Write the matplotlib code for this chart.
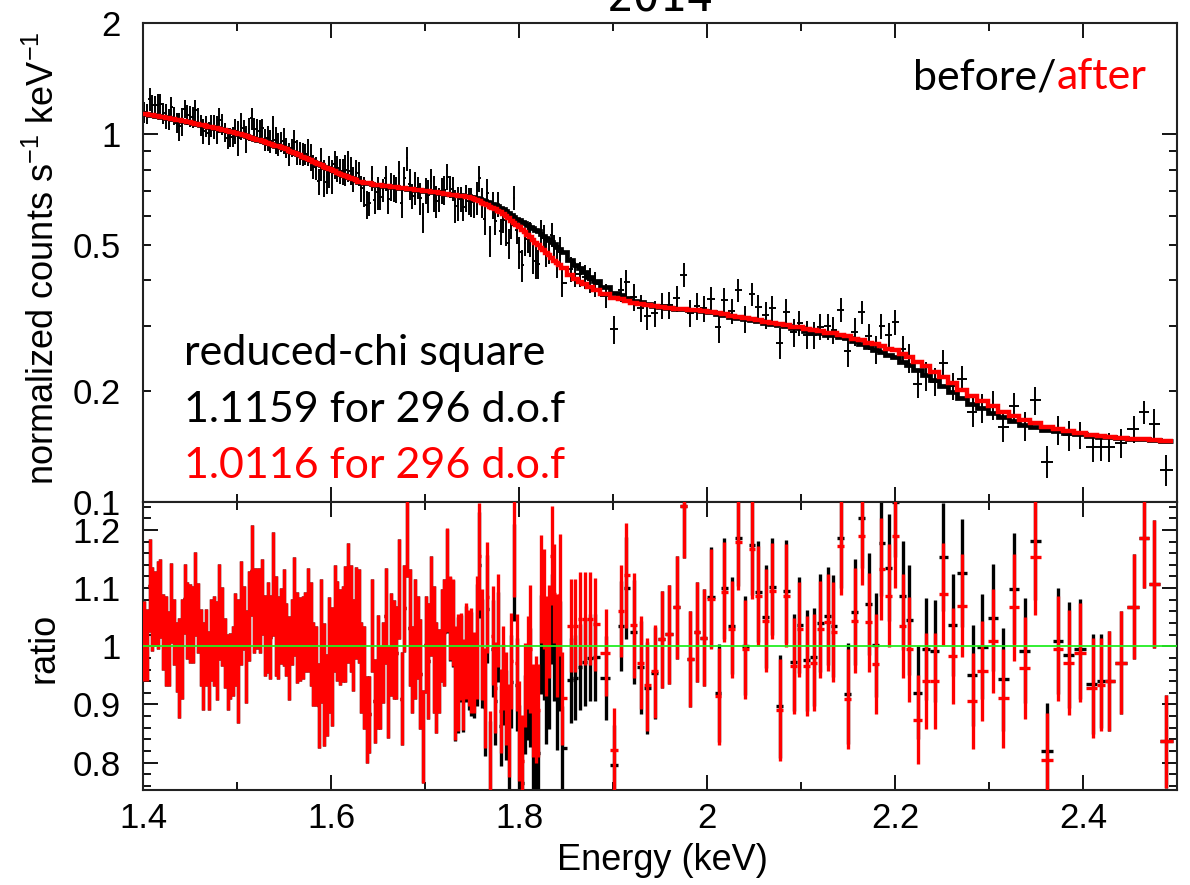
import numpy as np
import matplotlib.pyplot as plt
from matplotlib.ticker import FixedLocator, MultipleLocator, FuncFormatter

plt.rcParams['font.family'] = ['Liberation Sans', 'DejaVu Sans']
plt.rcParams['mathtext.fontset'] = 'custom'
plt.rcParams['mathtext.rm'] = 'Liberation Sans'

# ---- data ----------------------------------------------------------------
# bin centres (keV): dense part, middle part, sparse part
energy_a = [1.4015, 1.4044, 1.4072, 1.4101, 1.4129, 1.4158, 1.4186, 1.4215, 1.4243, 1.4272,
            1.4300, 1.4329, 1.4357, 1.4386, 1.4414, 1.4443, 1.4471, 1.4500, 1.4528, 1.4557,
            1.4585, 1.4614, 1.4642, 1.4671, 1.4699, 1.4728, 1.4756, 1.4785, 1.4813, 1.4842,
            1.4870, 1.4899, 1.4927, 1.4956, 1.4984, 1.5013, 1.5041, 1.5070, 1.5098, 1.5127,
            1.5155, 1.5184, 1.5212, 1.5241, 1.5269, 1.5298, 1.5326, 1.5355, 1.5383, 1.5412,
            1.5440, 1.5469, 1.5497, 1.5526, 1.5554, 1.5583, 1.5611, 1.5640, 1.5668, 1.5697,
            1.5725, 1.5754, 1.5782, 1.5811, 1.5839, 1.5868, 1.5896, 1.5925, 1.5953, 1.5982,
            1.6010, 1.6039, 1.6067, 1.6096, 1.6124, 1.6153, 1.6181, 1.6210, 1.6238, 1.6267,
            1.6295]
energy_b = [1.6324, 1.6352, 1.6381, 1.6409, 1.6438, 1.6466, 1.6495, 1.6523, 1.6552, 1.6580,
            1.6609, 1.6637, 1.6666, 1.6694, 1.6723, 1.6751, 1.6780, 1.6808, 1.6837, 1.6865,
            1.6894, 1.6922, 1.6951, 1.6979, 1.7008, 1.7036, 1.7065, 1.7093, 1.7122, 1.7150,
            1.7179, 1.7207, 1.7236, 1.7264, 1.7293, 1.7321, 1.7350, 1.7378, 1.7407, 1.7435,
            1.7464, 1.7492, 1.7521, 1.7549, 1.7578, 1.7606, 1.7635, 1.7663, 1.7692, 1.7720,
            1.7749, 1.7777, 1.7806, 1.7834, 1.7863, 1.7891, 1.7920, 1.7948, 1.7977, 1.8005,
            1.8034, 1.8062, 1.8091, 1.8119, 1.8148, 1.8176, 1.8205, 1.8233, 1.8262, 1.8290,
            1.8319, 1.8347, 1.8376, 1.8404, 1.8433, 1.8461,
            1.8550, 1.8596, 1.8649, 1.8702, 1.8755, 1.8809]
energy_c = [1.8921, 1.9014, 1.9082, 1.9142, 1.9222, 1.9294, 1.9362, 1.9442, 1.9522, 1.9595,
            1.9683, 1.9751, 1.9823, 1.9895, 1.9963, 2.0043, 2.0123, 2.0183, 2.0263, 2.0335,
            2.0403, 2.0483, 2.0543, 2.0623, 2.0696, 2.0776, 2.0844, 2.0924, 2.0984, 2.1064,
            2.1136, 2.1204, 2.1284, 2.1344, 2.1424, 2.1496, 2.1577, 2.1645, 2.1724, 2.1793,
            2.1856, 2.1936, 2.2004, 2.2085, 2.2145, 2.2245, 2.2325, 2.2426, 2.2513, 2.2613,
            2.2714, 2.2826, 2.2926, 2.3046, 2.3154, 2.3266, 2.3378, 2.3486, 2.3618, 2.3738,
            2.3847, 2.3967, 2.4106, 2.4187, 2.4274, 2.4407, 2.4539, 2.4647, 2.4755, 2.4887]

# data/model ratio against the "after" model, and its 1-sigma error
ratio_a = [1.009, 1.002, 1.104, 1.064, 1.065, 1.071, 1.082, 1.025, 1.009, 0.996,
           1.075, 1.024, 0.982, 0.963, 0.995, 1.081, 1.044, 1.039, 1.038, 1.090,
           1.048, 0.998, 0.966, 0.998, 0.959, 1.011, 1.009, 0.993, 1.059, 1.034,
           0.989, 0.956, 0.966, 0.975, 1.012, 0.975, 1.057, 1.049, 0.983, 1.052,
           1.130, 1.062, 1.065, 1.062, 1.085, 1.019, 1.032, 1.016, 1.107, 1.035,
           1.015, 1.035, 1.049, 1.012, 0.980, 1.024, 1.068, 1.015, 1.012, 1.015,
           1.024, 1.045, 1.021, 0.969, 0.966, 0.899, 1.009, 0.934, 0.916, 0.985,
           0.965, 1.047, 1.026, 1.016, 1.021, 1.038, 1.075, 1.047, 1.002, 1.057,
           1.052]
ratio_b = [0.963, 0.946, 0.874, 0.883, 1.036, 0.906, 0.955, 0.929, 0.972, 1.052,
           0.922, 1.003, 0.994, 0.989, 1.098, 0.910, 1.065, 1.209, 1.032, 0.960,
           1.012, 1.015, 0.952, 0.845, 1.003, 0.975, 1.070, 0.995, 0.946, 0.957,
           1.018, 1.024, 1.114, 1.049, 1.041, 0.937, 0.955, 0.983, 0.934, 0.992,
           0.980, 0.976, 0.955, 1.015, 1.155, 1.003, 0.911, 1.084, 0.809, 1.018,
           0.929, 1.044, 0.889, 0.963, 0.911, 0.856, 0.975, 1.170, 0.972, 0.854,
           0.802, 0.934, 0.972, 0.995, 0.890, 0.891, 0.890, 1.098, 1.081, 1.001,
           1.026, 1.156, 1.090, 1.001, 1.088, 0.911,
           1.035, 1.035, 1.047, 1.047, 1.047, 1.038]
ratio_c = [0.989, 0.822, 1.061, 1.122, 1.036, 0.972, 0.934, 0.957, 1.012, 1.021,
           1.067, 1.241, 0.978, 1.024, 1.015, 1.081, 0.914, 1.093, 1.029, 1.179,
           0.995, 1.167, 1.087, 1.044, 1.095, 0.891, 1.087, 0.966, 1.029, 0.966,
           0.972, 1.029, 1.041, 1.024, 1.173, 0.909, 1.044, 1.190, 1.041, 0.969,
           1.133, 1.087, 1.190, 1.035, 0.995, 0.874, 0.940, 0.940, 1.090, 0.983,
           1.070, 0.906, 0.957, 1.009, 0.911, 1.067, 0.963, 1.153, 0.805, 0.996,
           0.972, 0.989, 0.929, 0.934, 0.940, 0.972, 1.068, 1.186, 1.107, 0.837]

err_a = [.069, .062, .080, .072, .065, .076, .068, .065, .078, .065,
         .069, .057, .060, .086, .086, .060, .066, .068, .066, .072,
         .060, .066, .075, .066, .068, .070, .078, .085, .082, .068,
         .060, .065, .057, .060, .080, .106, .090, .055, .080, .078,
         .078, .073, .070, .073, .065, .070, .078, .073, .089, .086,
         .072, .065, .083, .063, .072, .057, .085, .078, .072, .072,
         .069, .090, .089, .072, .069, .073, .106, .106, .070, .099,
         .102, .092, .086, .082, .083, .100, .103, .092, .079, .079,
         .080]
err_b = [.078, .089, .075, .066, .080, .072, .098, .072, .070, .083,
         .079, .089, .085, .080, .086, .080, .075, .090, .100, .075,
         .103, .072, .095, .080, .083, .100, .086, .109, .095, .072,
         .080, .092, .090, .072, .075, .098, .100, .075, .078, .083,
         .083, .090, .069, .106, .092, .095, .086, .095, .080, .085,
         .078, .080, .072, .072, .080, .080, .083, .086, .083, .086,
         .080, .072, .080, .110, .080, .092, .080, .093, .086, .086,
         .080, .085, .085, .089, .105, .080,
         .080, .080, .080, .080, .080, .080]
err_c = [.075, .072, .079, .090, .090, .080, .080, .080, .083, .085,
         .088, .090, .082, .086, .083, .086, .083, .086, .083, .082,
         .085, .085, .086, .088, .083, .088, .088, .083, .082, .086,
         .083, .083, .083, .086, .085, .086, .090, .085, .085, .086,
         .088, .088, .090, .089, .090, .076, .083, .083, .088, .083,
         .088, .083, .086, .089, .085, .092, .088, .100, .080, .090,
         .090, .085, .086, .080, .086, .088, .090, .086, .110, .080]

# folded model per bin (counts s^-1 keV^-1): red = after, black = before
model_after_a = [1.135, 1.131, 1.128, 1.124, 1.121, 1.117, 1.114, 1.110, 1.106, 1.103,
                 1.099, 1.096, 1.092, 1.088, 1.085, 1.081, 1.078, 1.074, 1.070, 1.066,
                 1.062, 1.058, 1.054, 1.050, 1.046, 1.042, 1.038, 1.034, 1.030, 1.026,
                 1.022, 1.018, 1.014, 1.009, 1.005, 1.001, 0.996, 0.990, 0.985, 0.980,
                 0.975, 0.970, 0.965, 0.960, 0.955, 0.949, 0.944, 0.939, 0.934, 0.929,
                 0.924, 0.919, 0.914, 0.907, 0.900, 0.894, 0.887, 0.880, 0.874, 0.867,
                 0.861, 0.854, 0.848, 0.841, 0.835, 0.828, 0.822, 0.815, 0.809, 0.802,
                 0.796, 0.791, 0.785, 0.780, 0.774, 0.769, 0.763, 0.758, 0.753, 0.747,
                 0.742]
model_after_b = [0.739, 0.737, 0.735, 0.733, 0.731, 0.728, 0.726, 0.725, 0.723, 0.722,
                 0.720, 0.719, 0.717, 0.716, 0.714, 0.713, 0.711, 0.710, 0.708, 0.707,
                 0.705, 0.704, 0.703, 0.701, 0.700, 0.698, 0.696, 0.694, 0.693, 0.691,
                 0.689, 0.688, 0.686, 0.684, 0.682, 0.681, 0.679, 0.677, 0.676, 0.674,
                 0.672, 0.670, 0.666, 0.661, 0.655, 0.650, 0.645, 0.639, 0.634, 0.629,
                 0.623, 0.618, 0.612, 0.605, 0.597, 0.589, 0.581, 0.573, 0.565, 0.558,
                 0.549, 0.540, 0.532, 0.523, 0.515, 0.506, 0.498, 0.490, 0.483, 0.475,
                 0.468, 0.460, 0.452, 0.445, 0.439, 0.433,
                 0.414, 0.403, 0.397, 0.391, 0.383, 0.377]
model_after_c = [0.367, 0.358, 0.355, 0.352, 0.348, 0.346, 0.343, 0.340, 0.338, 0.336,
                 0.335, 0.334, 0.333, 0.332, 0.331, 0.329, 0.326, 0.324, 0.321, 0.319,
                 0.316, 0.314, 0.312, 0.309, 0.307, 0.304, 0.302, 0.299, 0.298, 0.295,
                 0.293, 0.291, 0.288, 0.287, 0.284, 0.282, 0.278, 0.275, 0.271, 0.268,
                 0.265, 0.261, 0.259, 0.252, 0.247, 0.240, 0.234, 0.226, 0.219, 0.210,
                 0.202, 0.194, 0.188, 0.182, 0.176, 0.171, 0.167, 0.164, 0.160, 0.158,
                 0.156, 0.154, 0.152, 0.151, 0.150, 0.149, 0.148, 0.148, 0.147, 0.146]

model_before_a = list(model_after_a)   # the two fits coincide here
model_before_b = [0.739, 0.737, 0.735, 0.733, 0.731, 0.728, 0.726, 0.725, 0.723, 0.722,
                  0.720, 0.719, 0.717, 0.716, 0.714, 0.713, 0.711, 0.710, 0.708, 0.707,
                  0.705, 0.704, 0.703, 0.701, 0.700, 0.698, 0.696, 0.694, 0.693, 0.691,
                  0.689, 0.688, 0.687, 0.685, 0.683, 0.683, 0.682, 0.680, 0.679, 0.678,
                  0.677, 0.675, 0.673, 0.669, 0.664, 0.660, 0.656, 0.651, 0.647, 0.643,
                  0.639, 0.635, 0.630, 0.624, 0.617, 0.610, 0.603, 0.595, 0.588, 0.583,
                  0.576, 0.571, 0.566, 0.560, 0.555, 0.548, 0.543, 0.536, 0.529, 0.522,
                  0.516, 0.508, 0.501, 0.494, 0.486, 0.478,
                  0.455, 0.441, 0.431, 0.421, 0.409, 0.399]
model_before_c = [0.384, 0.370, 0.364, 0.359, 0.352, 0.349, 0.345, 0.341, 0.338, 0.336,
                  0.335, 0.334, 0.333, 0.332, 0.331, 0.328, 0.324, 0.322, 0.319, 0.317,
                  0.314, 0.312, 0.310, 0.307, 0.305, 0.302, 0.300, 0.297, 0.296, 0.292,
                  0.290, 0.288, 0.285, 0.284, 0.281, 0.279, 0.274, 0.268, 0.263, 0.259,
                  0.255, 0.250, 0.247, 0.240, 0.235, 0.228, 0.221, 0.214, 0.207, 0.199,
                  0.192, 0.185, 0.180, 0.175, 0.170, 0.166, 0.162, 0.160, 0.157, 0.156,
                  0.154, 0.153, 0.151, 0.150, 0.150, 0.149, 0.148, 0.148, 0.147, 0.146]

y_ticks_top = [0.1, 1, 2]
y_minor_top = [0.2, 0.3, 0.4, 0.5, 0.6, 0.7, 0.8, 0.9]
y_labelled_minor = [0.2, 0.5]
y_ticks_ratio = [0.8, 0.9, 1.0, 1.1, 1.2]

# ---- derived arrays ------------------------------------------------------
energy = np.array(energy_a + energy_b + energy_c)
ratio_after = np.array(ratio_a + ratio_b + ratio_c)
ratio_after_err = np.array(err_a + err_b + err_c)
model_after = np.array(model_after_a + model_after_b + model_after_c)
model_before = np.array(model_before_a + model_before_b + model_before_c)

flux = ratio_after * model_after
flux_err = ratio_after_err * model_after
ratio_before = flux / model_before
ratio_before_err = flux_err / model_before

mid = (energy[1:] + energy[:-1]) / 2
edges = np.concatenate([[energy[0] - (energy[1] - energy[0]) / 2], mid,
                        [energy[-1] + (energy[-1] - energy[-2]) / 2]])
xerr = [energy - edges[:-1], edges[1:] - energy]

# ---- figure --------------------------------------------------------------
W, H = 1190, 885
fig = plt.figure(figsize=(W / 100, H / 100), dpi=100)
left, right = 143 / W, 1177 / W
ax1 = fig.add_axes([left, 1 - 502 / H, right - left, (502 - 23) / H])
ax2 = fig.add_axes([left, 1 - 790 / H, right - left, (790 - 502) / H])

ax1.errorbar(energy, flux, yerr=flux_err, xerr=xerr, fmt='none',
             ecolor='black', elinewidth=1.4, zorder=2)
ax1.stairs(model_before, edges, baseline=None, color='black', lw=3.4, zorder=3)
ax1.stairs(model_after, edges, baseline=None, color='red', lw=3.2, zorder=4)

ax2.errorbar(energy, ratio_before, yerr=ratio_before_err, xerr=xerr, fmt='none',
             ecolor='black', elinewidth=2.4, zorder=2)
ax2.errorbar(energy, ratio_after, yerr=ratio_after_err, xerr=xerr, fmt='none',
             ecolor='red', elinewidth=2.4, zorder=3)
ax2.axhline(1.0, color='#22ee22', lw=1.3, zorder=4)

gfmt = FuncFormatter(lambda v, p: '%g' % round(v, 3))
for ax in (ax1, ax2):
    ax.set_xlim(1.4, 2.5)
    ax.xaxis.set_major_locator(MultipleLocator(0.2))
    ax.xaxis.set_minor_locator(MultipleLocator(0.1))
    ax.xaxis.set_major_formatter(gfmt)
    ax.tick_params(which='both', direction='in', top=True, right=True,
                   width=1.3, labelsize=25)
    ax.tick_params(which='major', length=11)
    ax.tick_params(which='minor', length=6)
    ax.tick_params(axis='y', which='both', pad=16)
    ax.tick_params(axis='x', which='both', pad=9)
    for s in ax.spines.values():
        s.set_linewidth(1.5)
        s.set_color('#222222')

ax1.set_yscale('log')
ax1.set_ylim(0.1, 2)
ax1.yaxis.set_major_locator(FixedLocator(y_ticks_top))
ax1.yaxis.set_minor_locator(FixedLocator(y_minor_top))
ax1.yaxis.set_major_formatter(gfmt)
ax1.yaxis.set_minor_formatter(FuncFormatter(
    lambda v, p: '%g' % round(v, 3) if round(v, 3) in y_labelled_minor else ''))
ax1.tick_params(labelbottom=False)

ax2.set_ylim(0.753, 1.248)
ax2.yaxis.set_major_locator(FixedLocator(y_ticks_ratio))
ax2.yaxis.set_minor_locator(MultipleLocator(0.02))
ax2.yaxis.set_major_formatter(gfmt)

fig.text(44 / W, 1 - 258 / H, r'normalized counts s$^{-1}$ keV$^{-1}$',
         rotation=90, ha='center', va='center', fontsize=26)
fig.text(44 / W, 1 - 648 / H, 'ratio', rotation=90, ha='center', va='center',
         fontsize=26)
fig.text(662 / W, 1 - 860 / H, 'Energy (keV)', ha='center', va='center',
         fontsize=26)

fig.text(660 / W, 1 - 12 / H, '2014', ha='center', va='baseline',
         fontsize=32, family='DejaVu Sans Mono')

# annotations
txt = dict(family=['Lato', 'DejaVu Sans'], fontsize=31)
fig.text(184 / W, 1 - 365 / H, 'reduced-chi square', color='black', va='baseline', **txt)
fig.text(184 / W, 1 - 422 / H, '1.1159 for 296 d.o.f', color='black', va='baseline', **txt)
fig.text(184 / W, 1 - 478 / H, '1.0116 for 296 d.o.f', color='red', va='baseline', **txt)
t_after = fig.text(1146 / W, 1 - 89 / H, 'after', color='red', ha='right',
                   va='baseline', family=['Lato', 'DejaVu Sans'], fontsize=31)
fig.canvas.draw()
bb = t_after.get_window_extent()
fig.text(bb.x0 / W, 1 - 89 / H, 'before/', color='black', ha='right',
         va='baseline', family=['Lato', 'DejaVu Sans'], fontsize=31)

fig.savefig('out.png', dpi=100)
